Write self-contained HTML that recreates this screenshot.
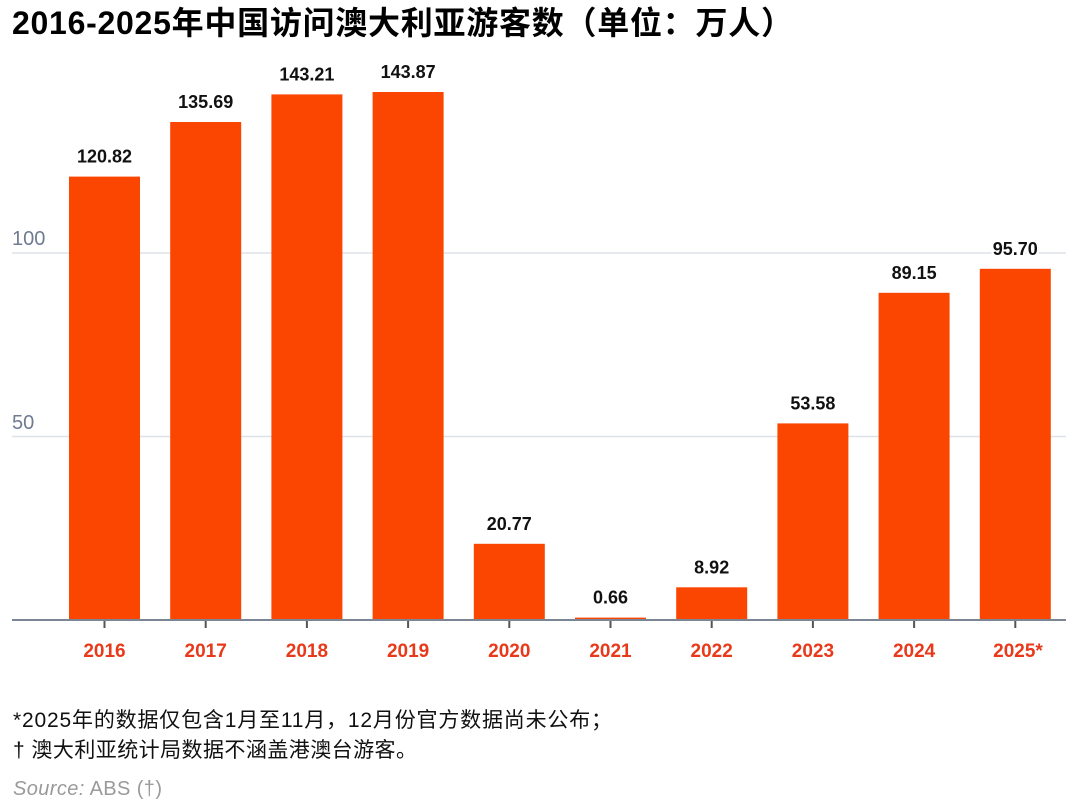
<!DOCTYPE html>
<html>
<head>
<meta charset="utf-8">
<style>
  html,body{margin:0;padding:0;background:#fff;}
  svg{display:block;}
  .t{font-family:"Liberation Sans","Noto Sans CJK SC",sans-serif;}
</style>
</head>
<body>
<svg width="1080" height="802" viewBox="0 0 1080 802" xmlns="http://www.w3.org/2000/svg">
  <rect width="1080" height="802" fill="#fff"/>
  <!-- Title -->
  <text class="t" x="12" y="34" font-size="32" font-weight="bold" fill="#000" textLength="781" lengthAdjust="spacing">2016-2025年中国访问澳大利亚游客数（单位：万人）</text>

  <!-- gridlines -->
  <line x1="12" y1="253" x2="1066" y2="253" stroke="#dde2e9" stroke-width="1.5"/>
  <line x1="12" y1="436.5" x2="1066" y2="436.5" stroke="#dde2e9" stroke-width="1.5"/>
  <text class="t" x="12" y="245" font-size="20" fill="#6e7c91">100</text>
  <text class="t" x="12" y="429" font-size="20" fill="#6e7c91">50</text>

  <!-- bars -->
  <g fill="#fb4602">
    <rect x="69" y="176.6" width="71" height="443.4"/>
    <rect x="170.2" y="122.0" width="71" height="498.0"/>
    <rect x="271.4" y="94.4" width="71" height="525.6"/>
    <rect x="372.6" y="92.0" width="71" height="528.0"/>
    <rect x="473.8" y="543.8" width="71" height="76.2"/>
    <rect x="575.0" y="617.6" width="71" height="2.4"/>
    <rect x="676.2" y="587.3" width="71" height="32.7"/>
    <rect x="777.4" y="423.4" width="71" height="196.6"/>
    <rect x="878.6" y="292.8" width="71" height="327.2"/>
    <rect x="979.8" y="268.8" width="71" height="351.2"/>
  </g>

  <!-- value labels -->
  <g class="t" font-size="18" font-weight="bold" fill="#111" text-anchor="middle" stroke="#fff" stroke-width="5" paint-order="stroke" stroke-linejoin="round">
    <text x="104.5" y="162.6">120.82</text>
    <text x="205.7" y="108.0">135.69</text>
    <text x="306.9" y="80.4">143.21</text>
    <text x="408.1" y="78.0">143.87</text>
    <text x="509.3" y="529.8">20.77</text>
    <text x="610.5" y="603.6">0.66</text>
    <text x="711.7" y="573.3">8.92</text>
    <text x="812.9" y="409.4">53.58</text>
    <text x="914.1" y="278.8">89.15</text>
    <text x="1015.3" y="254.8">95.70</text>
  </g>

  <!-- axis -->
  <line x1="12" y1="620" x2="1066" y2="620" stroke="#7b8594" stroke-width="2"/>
  <g stroke="#555" stroke-width="2">
    <line x1="104.5" y1="621" x2="104.5" y2="628"/>
    <line x1="205.7" y1="621" x2="205.7" y2="628"/>
    <line x1="306.9" y1="621" x2="306.9" y2="628"/>
    <line x1="408.1" y1="621" x2="408.1" y2="628"/>
    <line x1="509.3" y1="621" x2="509.3" y2="628"/>
    <line x1="610.5" y1="621" x2="610.5" y2="628"/>
    <line x1="711.7" y1="621" x2="711.7" y2="628"/>
    <line x1="812.9" y1="621" x2="812.9" y2="628"/>
    <line x1="914.1" y1="621" x2="914.1" y2="628"/>
    <line x1="1015.3" y1="621" x2="1015.3" y2="628"/>
  </g>

  <!-- year labels -->
  <g class="t" font-size="19" font-weight="bold" fill="#e8391b" text-anchor="middle">
    <text x="104.5" y="657">2016</text>
    <text x="205.7" y="657">2017</text>
    <text x="306.9" y="657">2018</text>
    <text x="408.1" y="657">2019</text>
    <text x="509.3" y="657">2020</text>
    <text x="610.5" y="657">2021</text>
    <text x="711.7" y="657">2022</text>
    <text x="812.9" y="657">2023</text>
    <text x="914.1" y="657">2024</text>
    <text x="1018" y="657">2025*</text>
  </g>

  <!-- footnotes -->
  <text class="t" x="13" y="727" font-size="21" fill="#111" textLength="599" lengthAdjust="spacing">*2025年的数据仅包含1月至11月，12月份官方数据尚未公布；</text>
  <text class="t" x="13" y="757" font-size="21" fill="#111" textLength="404" lengthAdjust="spacing">† 澳大利亚统计局数据不涵盖港澳台游客。</text>
  <text class="t" x="13" y="795" font-size="20" fill="#9a9a9a" textLength="149" lengthAdjust="spacing"><tspan font-style="italic">Source:</tspan> ABS (†)</text>
</svg>
</body>
</html>
